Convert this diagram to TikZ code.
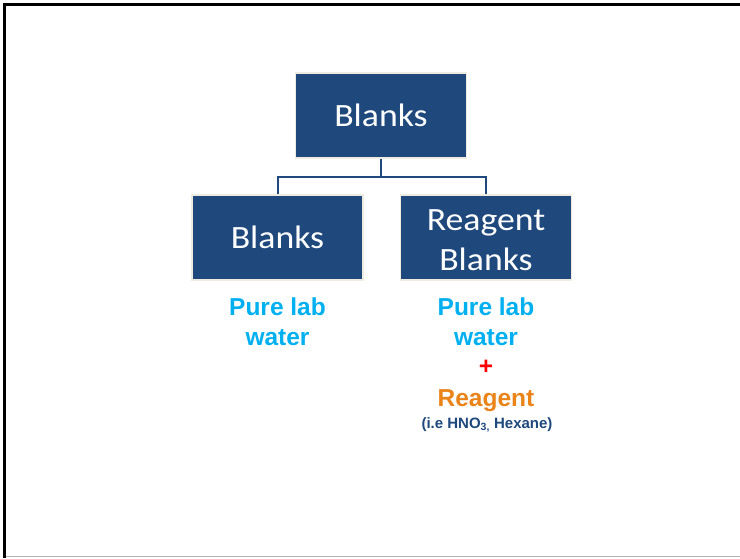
\documentclass[tikz,border=0pt]{standalone}
\usepackage{fontspec}
\setmainfont{Carlito}
\newfontfamily\arialfont{Liberation Sans}
\definecolor{boxblue}{HTML}{1F497D}
\definecolor{boxedge}{HTML}{EEECE1}
\definecolor{labcyan}{HTML}{00B0F0}
\definecolor{reagorange}{HTML}{EA8419}
\tikzset{
  orgbox/.style={rectangle, fill=boxblue, draw=boxedge, line width=1.6pt,
    minimum width=171pt, minimum height=85pt, inner sep=0pt,
    text=white, align=center, font=\fontsize{32.5}{37}\selectfont},
  link/.style={draw=boxblue, line width=2pt},
  lab/.style={anchor=base, align=center, inner sep=0pt,
    font=\arialfont\bfseries\fontsize{24.5}{30}\selectfont},
}
\newcommand{\wide}[1]{\scalebox{1.1}[1]{#1}}
\begin{document}
\begin{tikzpicture}[x=1pt, y=-1pt]
  \useasboundingbox (0,0) rectangle (740,558);
  \fill[white] (0,0) rectangle (740,558);
  % slide frame
  \draw[gray!60, line width=1pt] (4,556.5) -- (740,556.5);
  \draw[black, line width=2.6pt] (4.3,558) -- (4.3,4.3) -- (740,4.3);

  % boxes
  \node[orgbox] (top)   at (381,115.5) {\wide{Blanks}};
  \node[orgbox] (left)  at (277.5,237.5) {\wide{Blanks}};
  \node[orgbox] (right) at (486,237.5)
    {\rule{0pt}{27pt}\wide{Reagent}\\[3pt]\wide{Blanks}};

  % connectors
  \coordinate (bus) at (381,176.5);
  \draw[link] (top.south) -- (bus);
  \draw[link] (left.north) |- (bus) -| (right.north);

  % labels (base anchor sits on the last line)
  \node[lab, text=labcyan] (pureL) at (277.5,345) {Pure lab\\water};
  \node[lab, text=labcyan] (pureR) at (486,345) {Pure lab\\water};
  \node[lab, text=red, anchor=center] (plus) at (486,367) {+};
  \node[lab, text=reagorange] (reag) at (486,406) {Reagent};
  \node[lab, text=boxblue, font=\arialfont\bfseries\fontsize{15}{18}\selectfont]
    (examples) at (487,428) {(i.e HNO\textsubscript{3,} Hexane)};
\end{tikzpicture}
\end{document}
